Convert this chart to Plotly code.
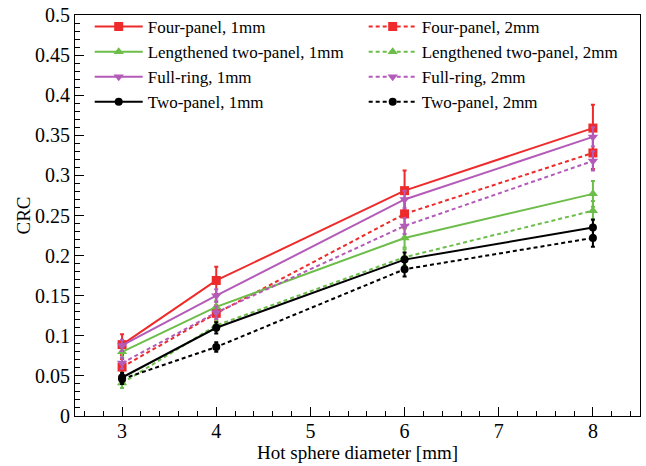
import plotly.graph_objects as go

diam = [3, 4, 6, 8]

four_1mm = [0.089, 0.169, 0.281, 0.359]
four_1mm_err = [0.013, 0.017, 0.025, 0.029]
four_2mm = [0.061, 0.128, 0.252, 0.328]
four_2mm_err = [0.010, 0.010, 0.018, 0.020]

len_1mm = [0.080, 0.136, 0.222, 0.277]
len_1mm_err = [0.007, 0.008, 0.012, 0.016]
len_2mm = [0.041, 0.113, 0.198, 0.256]
len_2mm_err = [0.006, 0.007, 0.010, 0.012]

full_1mm = [0.088, 0.150, 0.270, 0.348]
full_1mm_err = [0.007, 0.008, 0.011, 0.012]
full_2mm = [0.066, 0.129, 0.237, 0.318]
full_2mm_err = [0.007, 0.008, 0.010, 0.012]

two_1mm = [0.048, 0.110, 0.195, 0.235]
two_1mm_err = [0.006, 0.007, 0.009, 0.010]
two_2mm = [0.046, 0.086, 0.183, 0.222]
two_2mm_err = [0.006, 0.006, 0.009, 0.011]

ytick_vals = [0, 0.05, 0.1, 0.15, 0.2, 0.25, 0.3, 0.35, 0.4, 0.45, 0.5]
ytick_text = ["0", "0.05", "0.1", "0.15", "0.2", "0.25", "0.3", "0.35", "0.4", "0.45", "0.5"]
xtick_vals = [3, 4, 5, 6, 7, 8]

RED = "#ee2a2a"
GREEN = "#6dbd4a"
MAG = "#b45ab8"
BLK = "#000000"

series = [
    ("Four-panel, 1mm", four_1mm, four_1mm_err, RED, "solid", "square"),
    ("Four-panel, 2mm", four_2mm, four_2mm_err, RED, "dash", "square"),
    ("Lengthened two-panel, 1mm", len_1mm, len_1mm_err, GREEN, "solid", "triangle-up"),
    ("Lengthened two-panel, 2mm", len_2mm, len_2mm_err, GREEN, "dash", "triangle-up"),
    ("Full-ring, 1mm", full_1mm, full_1mm_err, MAG, "solid", "triangle-down"),
    ("Full-ring, 2mm", full_2mm, full_2mm_err, MAG, "dash", "triangle-down"),
    ("Two-panel, 1mm", two_1mm, two_1mm_err, BLK, "solid", "circle"),
    ("Two-panel, 2mm", two_2mm, two_2mm_err, BLK, "dash", "circle"),
]

fig = go.Figure()
for name, y, err, col, dash, sym in series:
    fig.add_trace(go.Scatter(
        x=diam, y=y, name=name, mode="lines+markers",
        line=dict(color=col, width=2, dash="4px,3px" if dash == "dash" else "solid"),
        marker=dict(symbol=sym, size=9 if sym != "circle" else 8, color=col),
        error_y=dict(type="data", array=err, visible=True, color=col, thickness=2, width=2),
    ))

FONT = "Times New Roman"
fig.update_layout(
    width=646, height=466,
    margin=dict(l=75, r=6, t=15, b=50, autoexpand=False),
    paper_bgcolor="white", plot_bgcolor="white",
    font=dict(family=FONT, size=19, color="black"),
    showlegend=True,
    legend=dict(
        orientation="h", x=0.026, y=1.015, xanchor="left", yanchor="top",
        entrywidth=211, entrywidthmode="pixels", itemwidth=48,
        font=dict(family=FONT, size=17, color="black"), bgcolor="rgba(255,255,255,0)",
        tracegroupgap=0, traceorder="normal",
    ),
    xaxis=dict(
        range=[2.5, 8.5], tickvals=xtick_vals, showgrid=False, zeroline=False,
        automargin=False,
        ticks="inside", ticklen=9, tickwidth=1, tickcolor="black",
        showline=True, linecolor="black", linewidth=1, mirror=True,
        minor=dict(dtick=0.2, ticks="inside", ticklen=5, tickcolor="black", showgrid=False),
        tickfont=dict(family=FONT, size=20),
        ticklabelstandoff=-3,
    ),
    yaxis=dict(
        range=[0, 0.5], tickvals=ytick_vals, ticktext=ytick_text, showgrid=False, zeroline=False,
        automargin=False,
        ticks="inside", ticklen=9, tickwidth=1, tickcolor="black",
        showline=True, linecolor="black", linewidth=1, mirror=True,
        minor=dict(dtick=0.01, ticks="inside", ticklen=5, tickcolor="black", showgrid=False),
        tickfont=dict(family=FONT, size=20),
    ),
    annotations=[
        dict(text="Hot sphere diameter [mm]", xref="paper", yref="paper", x=0.5, y=-0.09,
             xanchor="center", yanchor="middle", showarrow=False,
             font=dict(family=FONT, size=19, color="black")),
        dict(text="CRC", xref="paper", yref="paper", x=-0.092, y=0.5, textangle=-90,
             xanchor="center", yanchor="middle", showarrow=False,
             font=dict(family=FONT, size=19, color="black")),
    ],
)

fig.write_html("out.html", config={"displayModeBar": False},
               post_script="document.body.style.margin='0px';")
